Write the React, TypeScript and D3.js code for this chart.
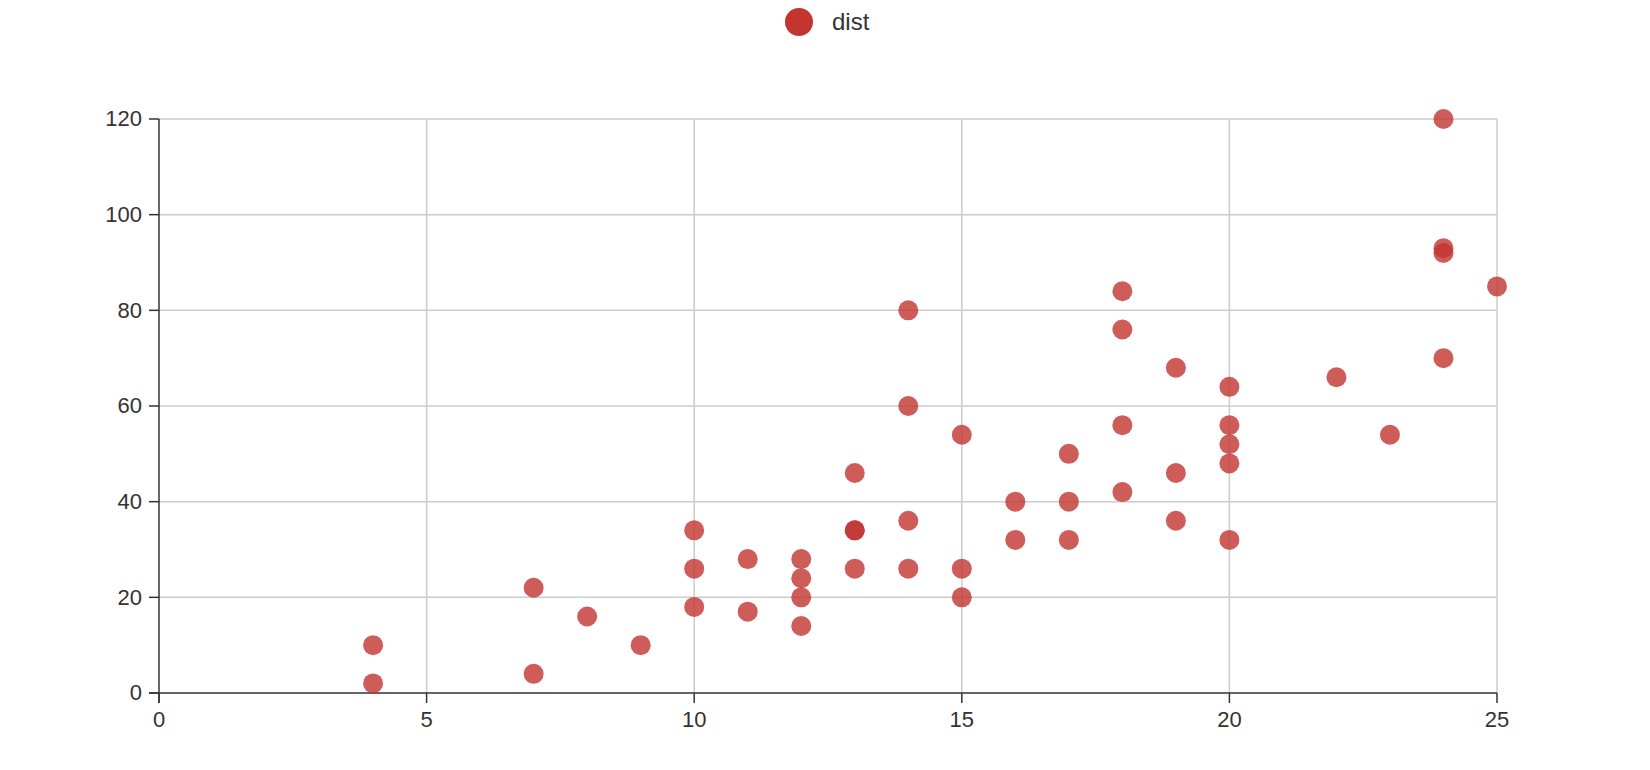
import React from "react";
import * as d3 from "d3";

const speed = [4,4,7,7,8,9,10,10,10,11,11,12,12,12,12,13,13,13,13,14,14,14,14,15,15,15,16,16,17,17,17,18,18,18,18,19,19,19,20,20,20,20,20,22,23,24,24,24,24,25];
const dist = [2,10,4,22,16,10,18,26,34,17,28,14,20,24,28,26,34,34,46,26,36,60,80,20,26,54,32,40,32,40,50,42,56,76,84,36,46,68,32,48,52,56,64,66,54,70,92,93,120,85];
const xTicks = [0,5,10,15,20,25];
const yTicks = [0,20,40,60,80,100,120];
const seriesName = "dist";

export default function App() {
  const W = 1650, H = 770;
  const left = 159, right = 1497, top = 119, bottom = 693;
  const x = d3.scaleLinear().domain([0, 25]).range([left, right]);
  const y = d3.scaleLinear().domain([0, 120]).range([bottom, top]);
  const color = "#c23531";
  const font = "'Liberation Sans', Arial, Helvetica, sans-serif";
  const tick = 10;
  return (
    <svg width={W} height={H} style={{ position: "absolute", left: 0, top: 0 }}>
      <rect width={W} height={H} fill="#fff" />
      {/* legend */}
      <circle cx={799} cy={22} r={14} fill={color} />
      <text x={832} y={22} dy="0.35em" fontFamily={font} fontSize={24} fill="#333">{seriesName}</text>
      {/* grid */}
      {yTicks.filter(t => t !== 0).map(t => (
        <line key={"gy" + t} x1={left} x2={right} y1={y(t)} y2={y(t)} stroke="#ccc" strokeWidth={1.5} />
      ))}
      {xTicks.filter(t => t !== 0).map(t => (
        <line key={"gx" + t} x1={x(t)} x2={x(t)} y1={top} y2={bottom} stroke="#ccc" strokeWidth={1.5} />
      ))}
      {/* axes */}
      <line x1={left} x2={left} y1={top} y2={bottom + tick} stroke="#333" strokeWidth={1.5} />
      <line x1={left - tick} x2={right} y1={bottom} y2={bottom} stroke="#333" strokeWidth={1.5} />
      {yTicks.map(t => (
        <g key={"ty" + t}>
          <line x1={left - tick} x2={left} y1={y(t)} y2={y(t)} stroke="#333" strokeWidth={1.5} />
          <text x={left - 17} y={y(t)} dy="0.33em" textAnchor="end" fontFamily={font} fontSize={22} fill="#333">{t}</text>
        </g>
      ))}
      {xTicks.map(t => (
        <g key={"tx" + t}>
          <line x1={x(t)} x2={x(t)} y1={bottom} y2={bottom + tick} stroke="#333" strokeWidth={1.5} />
          <text x={x(t)} y={bottom + 34} textAnchor="middle" fontFamily={font} fontSize={22} fill="#333">{t}</text>
        </g>
      ))}
      {/* points */}
      {speed.map((s, i) => (
        <circle key={i} cx={x(s)} cy={y(dist[i])} r={10} fill={color} fillOpacity={0.8} />
      ))}
    </svg>
  );
}
